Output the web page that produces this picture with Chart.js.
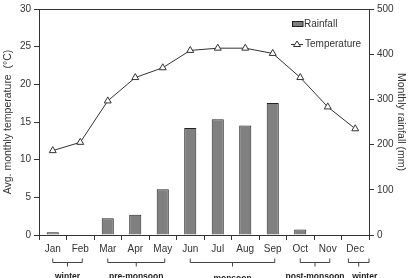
<!DOCTYPE html>
<html>
<head>
<meta charset="utf-8">
<script src="https://cdn.jsdelivr.net/npm/chart.js@4"></script>
<style>
  html, body { margin: 0; padding: 0; background: #fff; }
  #wrap { width: 411px; height: 278px; position: relative; }
</style>
</head>
<body>
<div id="wrap"><canvas id="c"></canvas></div>
<script>
// datos
const months = ['Jan', 'Feb', 'Mar', 'Apr', 'May', 'Jun', 'Jul', 'Aug', 'Sep', 'Oct', 'Nov', 'Dec'];
const rainfall = [6, 0, 37, 45, 101, 237, 256, 242, 292, 12, 0, 0];
const temperature = [11.2, 12.3, 17.8, 20.9, 22.2, 24.5, 24.8, 24.8, 24.1, 20.9, 17.0, 14.1];
const tempTicks = [0, 5, 10, 15, 20, 25, 30];
const rainTicks = [0, 100, 200, 300, 400, 500];
const seasonNames = ['winter', 'pre-monsoon', 'monsoon', 'post-monsoon', 'winter'];
const seasonFrom  = ['Jan', 'Mar', 'Jun', 'Oct', 'Dec'];
const seasonTo    = ['Feb', 'May', 'Sep', 'Nov', 'Dec'];

const INK = '#333';
const FONT = "'Liberation Sans', Arial, sans-serif";

Chart.defaults.font.family = FONT;
Chart.defaults.font.size = 10;
Chart.defaults.color = INK;

/* marco superior + leyenda + llaves de estaciones */
const extras = {
  id: 'extras',
  afterDraw(chart) {
    const { ctx, chartArea: a, scales } = chart;
    const x = scales.x;
    ctx.save();
    // borde superior
    ctx.strokeStyle = INK;
    ctx.lineWidth = 1;
    ctx.beginPath();
    ctx.moveTo(a.left, a.top + 0.5);
    ctx.lineTo(a.right, a.top + 0.5);
    ctx.stroke();

    // leyenda
    const lx = 292, ly1 = 24, ly2 = 44;
    ctx.fillStyle = '#808080';
    ctx.fillRect(lx, ly1 - 2.5, 11, 5);
    ctx.strokeStyle = '#222';
    ctx.strokeRect(lx + 0.5, ly1 - 2.5, 10.5, 5);
    ctx.fillStyle = INK;
    ctx.font = '10px ' + FONT;
    ctx.textBaseline = 'middle';
    ctx.textAlign = 'left';
    ctx.fillText('Rainfall', lx + 12, ly1);
    ctx.strokeStyle = INK;
    ctx.beginPath();
    ctx.moveTo(lx - 1, ly2 + 0.5);
    ctx.lineTo(lx + 11, ly2 + 0.5);
    ctx.stroke();
    ctx.fillStyle = '#fff';
    ctx.beginPath();
    ctx.moveTo(lx + 5, ly2 - 3);
    ctx.lineTo(lx + 8.5, ly2 + 2.5);
    ctx.lineTo(lx + 1.5, ly2 + 2.5);
    ctx.closePath();
    ctx.fill();
    ctx.stroke();
    ctx.fillStyle = INK;
    ctx.fillText('Temperature', lx + 13, ly2);

    // llaves
    const yb = 262.5;
    const half = (x.getPixelForValue(1) - x.getPixelForValue(0)) / 2;
    ctx.strokeStyle = '#444';
    ctx.font = 'bold 8.5px ' + FONT;
    ctx.textAlign = 'center';
    seasonNames.forEach((name, i) => {
      const i0 = months.indexOf(seasonFrom[i]);
      const i1 = months.indexOf(seasonTo[i]);
      let x0 = x.getPixelForValue(i0), x1 = x.getPixelForValue(i1);
      let tx = 0;
      if (i0 === i1) { x0 -= half * 0.5; x1 += half; tx = 6; }
      else { x1 += 2; }
      const xm = (x0 + x1) / 2;
      ctx.beginPath();
      ctx.moveTo(x0, yb - 4);
      ctx.lineTo(x0, yb);
      ctx.lineTo(x1, yb);
      ctx.lineTo(x1, yb - 4);
      ctx.moveTo(xm, yb);
      ctx.lineTo(xm, yb + 4);
      ctx.stroke();
      ctx.fillStyle = '#222';
      ctx.fillText(name, xm + tx, name === 'monsoon' ? 279 : 277);
    });
    ctx.restore();
  }
};

new Chart(document.getElementById('c'), {
  type: 'bar',
  data: {
    labels: months,
    datasets: [
      {
        type: 'line',
        label: 'Temperature',
        data: temperature,
        yAxisID: 'y',
        order: 0,
        borderColor: INK,
        borderWidth: 1,
        pointStyle: 'triangle',
        pointRadius: 4,
        pointBackgroundColor: '#fff',
        pointBorderColor: INK,
        pointBorderWidth: 1,
        tension: 0,
      },
      {
        type: 'bar',
        label: 'Rainfall',
        data: rainfall,
        yAxisID: 'y1',
        order: 1,
        backgroundColor: '#808080',
        borderColor: '#222',
        borderWidth: 1,
        barPercentage: 0.44,
        categoryPercentage: 1,
      },
    ]
  },
  options: {
    responsive: true,
    maintainAspectRatio: false,
    animation: false,
    layout: { padding: { top: 8, left: 0, right: 0, bottom: 0 } },
    plugins: {
      legend: { display: false },
      tooltip: { enabled: false },
    },
    scales: {
      x: {
        offset: true,
        border: { color: INK, width: 1 },
        grid: { offset: true, drawOnChartArea: false, drawTicks: true, tickLength: 5, color: INK },
        ticks: { padding: 3, color: INK, font: { size: 10 } },
        afterFit: (s) => { s.height = 43; },
      },
      y: {
        position: 'left',
        min: 0, max: 30,
        afterBuildTicks: (s) => { s.ticks = tempTicks.map(v => ({ value: v })); },
        border: { color: INK, width: 1 },
        grid: { drawOnChartArea: false, drawTicks: true, tickLength: 5, color: INK },
        ticks: { padding: 3, color: INK, font: { size: 10 } },
        title: { display: true, text: 'Avg. monthly temperature  (°C)', color: INK, font: { size: 10.5 }, padding: { top: 2, bottom: 0 } },
        afterFit: (s) => { s.width = 39; },
      },
      y1: {
        position: 'right',
        min: 0, max: 500,
        afterBuildTicks: (s) => { s.ticks = rainTicks.map(v => ({ value: v })); },
        border: { color: INK, width: 1 },
        grid: { drawOnChartArea: false, drawTicks: true, tickLength: 5, color: INK },
        ticks: { padding: 3, color: INK, font: { size: 10 } },
        title: { display: true, text: 'Monthly rainfall (mm)', color: INK, font: { size: 10.5 }, padding: { top: 4, bottom: 0 } },
        afterFit: (s) => { s.width = 42; },
      },
    }
  },
  plugins: [extras]
});
</script>
</body>
</html>
